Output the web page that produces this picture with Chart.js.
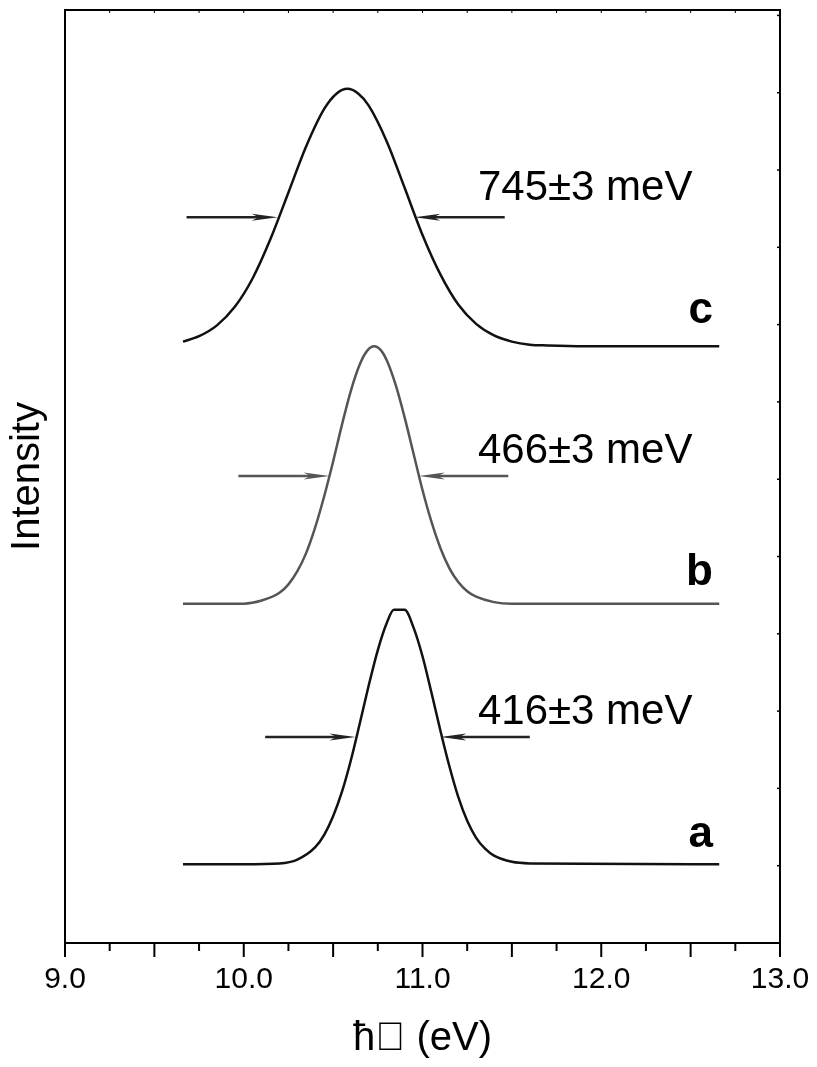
<!DOCTYPE html>
<html>
<head>
<meta charset="utf-8">
<script src="https://cdn.jsdelivr.net/npm/chart.js@4"></script>
<style>
  html, body { margin: 0; padding: 0; background: #fff; overflow: hidden; }
  #box { width: 817px; height: 1067px; position: relative; }
  canvas { display: block; }
</style>
</head>
<body>
<div id="box"><canvas id="grafico"></canvas></div>
<script>
// curva a (de baixo)
const aX = [9.66, 10.0, 10.2, 10.3, 10.4, 10.45, 10.5, 10.55, 10.6, 10.65, 10.7, 10.75, 10.8, 10.84, 10.9, 10.95, 11.0, 11.05, 11.1, 11.15, 11.2, 11.25, 11.3, 11.35, 11.4, 11.5, 11.6, 12.66];
const aY = [1.02, 1.02, 1.03, 1.08, 1.24, 1.40, 1.64, 1.96, 2.37, 2.85, 3.34, 3.79, 4.14, 4.31, 4.31, 4.08, 3.71, 3.24, 2.75, 2.29, 1.89, 1.58, 1.36, 1.22, 1.13, 1.05, 1.03, 1.02];

// curva b (meio, cinza)
const bX = [9.66, 10.0, 10.1, 10.2, 10.25, 10.3, 10.35, 10.4, 10.45, 10.5, 10.55, 10.6, 10.65, 10.69, 10.73, 10.77, 10.8, 10.85, 10.9, 10.95, 11.0, 11.05, 11.1, 11.15, 11.2, 11.25, 11.3, 11.4, 11.5, 12.66];
const bY = [4.39, 4.39, 4.43, 4.53, 4.64, 4.81, 5.05, 5.38, 5.78, 6.23, 6.71, 7.15, 7.49, 7.66, 7.72, 7.66, 7.54, 7.22, 6.80, 6.33, 5.86, 5.45, 5.11, 4.85, 4.67, 4.55, 4.48, 4.41, 4.39, 4.39];

// curva c (de cima)
const cX = [9.66, 9.75, 9.85, 9.95, 10.05, 10.15, 10.25, 10.35, 10.45, 10.52, 10.58, 10.64, 10.7, 10.8, 10.9, 11.0, 11.1, 11.2, 11.3, 11.4, 11.5, 11.6, 11.7, 11.9, 12.66];
const cY = [7.78, 7.85, 7.99, 8.23, 8.60, 9.11, 9.71, 10.31, 10.79, 10.99, 11.05, 10.99, 10.83, 10.37, 9.77, 9.16, 8.65, 8.26, 8.01, 7.86, 7.78, 7.74, 7.73, 7.72, 7.72];

// setas de largura a meia altura (ordem: c, b, a)
const setaY = [9.39, 6.04, 2.665];
const setaEsqDe = [9.68, 9.97, 10.12];
const setaEsqAte = [10.19, 10.48, 10.625];
const setaDirDe = [11.46, 11.48, 11.60];
const setaDirAte = [10.955, 10.98, 11.10];
const setaCor = ["#222", "#555", "#222"];

// textos
const larguras = ["745±3 meV", "466±3 meV", "416±3 meV"];
const larguraX = 11.31;
const larguraY = [9.61, 6.21, 2.83];
const nomes = ["c", "b", "a"];
const nomeX = 12.625;
const nomeY = [8.02, 4.63, 1.24];

const tituloX = "ħ\uF077 (eV)";
const tituloY = "Intensity";

const fonte = "'Liberation Sans', Arial, sans-serif";

function pares(xs, ys) {
  return xs.map((x, i) => ({ x: x, y: ys[i] }));
}

function desenharSeta(ctx, x0, x1, y, cor) {
  const dir = x1 > x0 ? 1 : -1;
  ctx.save();
  ctx.strokeStyle = cor;
  ctx.fillStyle = cor;
  ctx.lineWidth = 2.5;
  ctx.beginPath();
  ctx.moveTo(x0, y);
  ctx.lineTo(x1 - dir * 14, y);
  ctx.stroke();
  ctx.beginPath();
  ctx.moveTo(x1, y);
  ctx.lineTo(x1 - dir * 26, y - 3.5);
  ctx.lineTo(x1 - dir * 19, y);
  ctx.lineTo(x1 - dir * 26, y + 3.5);
  ctx.closePath();
  ctx.fill();
  ctx.restore();
}

const extras = {
  id: "extras",
  afterDraw(chart) {
    const ctx = chart.ctx;
    const sx = chart.scales.x;
    const sy = chart.scales.y;
    const area = chart.chartArea;

    ctx.save();
    ctx.strokeStyle = "#000";
    ctx.lineWidth = 2;
    // moldura de cima e da direita
    ctx.beginPath();
    ctx.moveTo(area.left, area.top);
    ctx.lineTo(area.right, area.top);
    ctx.lineTo(area.right, area.bottom);
    ctx.stroke();

    // marcas do eixo x
    for (let v = 9; v <= 13.001; v += 0.25) {
      const px = sx.getPixelForValue(v);
      const maior = Math.abs(v * 2 - Math.round(v * 2)) < 1e-6;
      ctx.beginPath();
      ctx.moveTo(px, area.bottom);
      ctx.lineTo(px, area.bottom + (maior ? 14 : 8));
      ctx.stroke();
      ctx.lineWidth = 1;
      ctx.beginPath();
      ctx.moveTo(px, area.top);
      ctx.lineTo(px, area.top + 3);
      ctx.stroke();
      ctx.lineWidth = 2;
    }
    // marcas pequenas do lado direito
    ctx.lineWidth = 1.5;
    for (let v = 1; v <= 12; v++) {
      const py = sy.getPixelForValue(v);
      ctx.beginPath();
      ctx.moveTo(area.right, py);
      ctx.lineTo(area.right - 3, py);
      ctx.stroke();
    }
    ctx.restore();

    for (let i = 0; i < setaY.length; i++) {
      const py = sy.getPixelForValue(setaY[i]);
      desenharSeta(ctx, sx.getPixelForValue(setaEsqDe[i]), sx.getPixelForValue(setaEsqAte[i]), py, setaCor[i]);
      desenharSeta(ctx, sx.getPixelForValue(setaDirDe[i]), sx.getPixelForValue(setaDirAte[i]), py, setaCor[i]);
    }

    ctx.save();
    ctx.fillStyle = "#000";
    ctx.textBaseline = "alphabetic";
    ctx.font = "42px " + fonte;
    ctx.textAlign = "left";
    larguras.forEach((t, i) => {
      ctx.fillText(t, sx.getPixelForValue(larguraX), sy.getPixelForValue(larguraY[i]));
    });
    ctx.font = "bold 44px " + fonte;
    ctx.textAlign = "right";
    nomes.forEach((t, i) => {
      ctx.fillText(t, sx.getPixelForValue(nomeX), sy.getPixelForValue(nomeY[i]));
    });
    ctx.restore();
  }
};

const ctx = document.getElementById("grafico").getContext("2d");

new Chart(ctx, {
  type: "line",
  data: {
    datasets: [
      { label: "a", data: pares(aX, aY), borderColor: "#111", borderWidth: 2.5, pointRadius: 0, cubicInterpolationMode: "monotone" },
      { label: "b", data: pares(bX, bY), borderColor: "#555", borderWidth: 2.5, pointRadius: 0, cubicInterpolationMode: "monotone" },
      { label: "c", data: pares(cX, cY), borderColor: "#111", borderWidth: 2.5, pointRadius: 0, cubicInterpolationMode: "monotone" }
    ]
  },
  options: {
    responsive: true,
    maintainAspectRatio: false,
    animation: false,
    layout: { padding: { top: 10, right: 37, left: 0, bottom: 0 } },
    plugins: { legend: { display: false }, tooltip: { enabled: false } },
    scales: {
      x: {
        type: "linear",
        min: 9,
        max: 13,
        grid: { display: false, drawTicks: false },
        border: { color: "#000", width: 2 },
        ticks: {
          stepSize: 1,
          padding: 19,
          color: "#000",
          font: { family: fonte, size: 30 },
          callback: (v) => v.toFixed(1)
        },
        title: {
          display: true,
          text: tituloX,
          color: "#000",
          font: { family: fonte, size: 40 },
          padding: { top: 4 }
        },
        afterFit: (scale) => {
          scale.height = 124;
          scale.paddingLeft = 0;
          scale.paddingRight = 0;
        }
      },
      y: {
        min: 0,
        max: 12.07,
        grid: { display: false, drawTicks: false },
        border: { color: "#000", width: 2 },
        ticks: { display: false },
        title: {
          display: true,
          text: tituloY,
          color: "#000",
          font: { family: fonte, size: 40 },
          padding: { top: 4 }
        },
        afterFit: (scale) => { scale.width = 65; }
      }
    }
  },
  plugins: [extras]
});
</script>
</body>
</html>
